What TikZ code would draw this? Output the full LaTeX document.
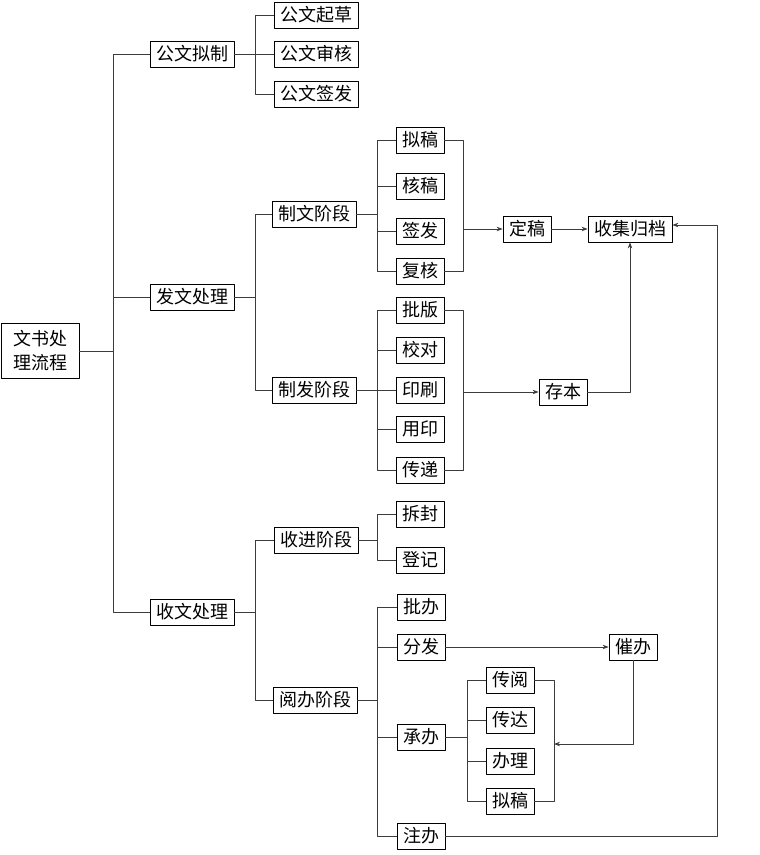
\documentclass[tikz,border=0pt]{standalone}
\usepackage{fontspec}
\newfontfamily\cjk{Noto Sans CJK SC}
\usetikzlibrary{arrows.meta}
\definecolor{LineCol}{RGB}{60,60,60}

\begin{document}
\begin{tikzpicture}[
  x=1pt, y=-1pt,
  >={Stealth[length=6pt,width=4.5pt]},
  line join=round,
  every node/.style={font=\cjk\fontsize{18}{24}\selectfont},
  itembox/.style={draw, line width=0.8pt, inner xsep=6pt, inner ysep=0pt, minimum height=26pt},
  link/.style={line width=0.8pt, LineCol}
]
  \useasboundingbox (0,0) rectangle (760,855);

  % Bus lines of the tree
  \coordinate (trunk) at (113,0);
  \coordinate (busB)  at (255,0);
  \coordinate (busC)  at (377,0);
  \coordinate (busD)  at (467,0);
  \coordinate (joinR) at (463,0);
  \coordinate (joinE) at (554,0);
  \coordinate (backF) at (717,0);

  % Root and first level
  \node[itembox, align=center, inner xsep=12pt, inner ysep=7pt] (root) at (40,351) {文书处\\理流程};
  \node[itembox] (nizhi)   at (192,54)  {公文拟制};
  \node[itembox] (fawen)   at (192,297) {发文处理};
  \node[itembox] (shouwen) at (192,612) {收文处理};

  % Drafting
  \node[itembox] (qicao)  at (316,15) {公文起草};
  \node[itembox] (shenhe) at (316,54) {公文审核};
  \node[itembox] (qianfa) at (316,94) {公文签发};

  % Outgoing documents
  \node[itembox] (zhiwen) at (314,214) {制文阶段};
  \node[itembox] (zhifa)  at (314,390) {制发阶段};
  \node[itembox] (nigao)   at (420,140) {拟稿};
  \node[itembox] (hegao)   at (420,186) {核稿};
  \node[itembox] (qianfaB) at (420,231) {签发};
  \node[itembox] (fuhe)    at (420,271) {复核};
  \node[itembox] (piban)   at (420,310) {批版};
  \node[itembox] (jiaodui) at (420,350) {校对};
  \node[itembox] (yinshua) at (420,390) {印刷};
  \node[itembox] (yongyin) at (420,429) {用印};
  \node[itembox] (chuandi) at (420,470) {传递};
  \node[itembox] (dinggao) at (527,229) {定稿};
  \node[itembox] (guidang) at (630,229) {收集归档};
  \node[itembox] (cunben)  at (563,392) {存本};

  % Incoming documents
  \node[itembox] (shoujin)  at (316,540) {收进阶段};
  \node[itembox] (yueban)   at (315,700) {阅办阶段};
  \node[itembox] (chaifeng) at (420,514) {拆封};
  \node[itembox] (dengji)   at (420,560) {登记};
  \node[itembox] (pibanB)   at (421,607) {批办};
  \node[itembox] (fenfa)    at (421,647) {分发};
  \node[itembox] (chengban) at (421,737) {承办};
  \node[itembox] (zhuban)   at (421,836) {注办};
  \node[itembox] (cuiban)   at (633,647) {催办};
  \node[itembox] (chuanyue) at (510,680) {传阅};
  \node[itembox] (chuanda)  at (510,720) {传达};
  \node[itembox] (banli)    at (510,761) {办理};
  \node[itembox] (nigaoB)   at (510,801) {拟稿};
  \coordinate (hui) at (554,744);

  % Trunk
  \draw[link] (root.east) -- (root.east -| trunk);
  \draw[link] (nizhi.west) -- (nizhi.west -| trunk) |- (shouwen.west);
  \draw[link] (fawen.west) -- (fawen.west -| trunk);

  % Second level
  \draw[link] (nizhi.east) -- (nizhi.east -| busB);
  \draw[link] (qicao.west) -- (qicao.west -| busB) |- (qianfa.west);
  \draw[link] (shenhe.west) -- (shenhe.west -| busB);
  \draw[link] (fawen.east) -- (fawen.east -| busB);
  \draw[link] (zhiwen.west) -- (zhiwen.west -| busB) |- (zhifa.west);
  \draw[link] (shouwen.east) -- (shouwen.east -| busB);
  \draw[link] (shoujin.west) -- (shoujin.west -| busB) |- (yueban.west);

  % Third level
  \draw[link] (zhiwen.east) -- (zhiwen.east -| busC);
  \draw[link] (nigao.west) -- (nigao.west -| busC) |- (fuhe.west);
  \draw[link] (hegao.west) -- (hegao.west -| busC);
  \draw[link] (qianfaB.west) -- (qianfaB.west -| busC);
  \draw[link] (zhifa.east) -- (zhifa.east -| busC);
  \draw[link] (piban.west) -- (piban.west -| busC) |- (chuandi.west);
  \draw[link] (jiaodui.west) -- (jiaodui.west -| busC);
  \draw[link] (yinshua.west) -- (yinshua.west -| busC);
  \draw[link] (yongyin.west) -- (yongyin.west -| busC);
  \draw[link] (shoujin.east) -- (shoujin.east -| busC);
  \draw[link] (chaifeng.west) -- (chaifeng.west -| busC) |- (dengji.west);
  \draw[link] (yueban.east) -- (yueban.east -| busC);
  \draw[link] (pibanB.west) -- (pibanB.west -| busC) |- (zhuban.west);
  \draw[link] (fenfa.west) -- (fenfa.west -| busC);
  \draw[link] (chengban.west) -- (chengban.west -| busC);

  % Handling steps
  \draw[link] (chengban.east) -- (chengban.east -| busD);
  \draw[link] (chuanyue.west) -- (chuanyue.west -| busD) |- (nigaoB.west);
  \draw[link] (chuanda.west) -- (chuanda.west -| busD);
  \draw[link] (banli.west) -- (banli.west -| busD);

  % Joining brackets and arrows
  \draw[link] (nigao.east) -- (nigao.east -| joinR) |- (fuhe.east);
  \draw[link, ->] (dinggao.west -| joinR) -- (dinggao.west);
  \draw[link, ->] (dinggao.east) -- (guidang.west);
  \draw[link] (piban.east) -- (piban.east -| joinR) |- (chuandi.east);
  \draw[link, ->] (cunben.west -| joinR) -- (cunben.west);
  \draw[link, ->] (cunben.east) -| (guidang.south);
  \draw[link, ->] (fenfa.east) -- (cuiban.west);
  \draw[link] (chuanyue.east) -- (chuanyue.east -| joinE) |- (nigaoB.east);
  \draw[link, ->] (cuiban.south) |- (hui);
  \draw[link, ->] (zhuban.east) -- (zhuban.east -| backF) |- ([yshift=4pt]guidang.east);
\end{tikzpicture}
\end{document}
